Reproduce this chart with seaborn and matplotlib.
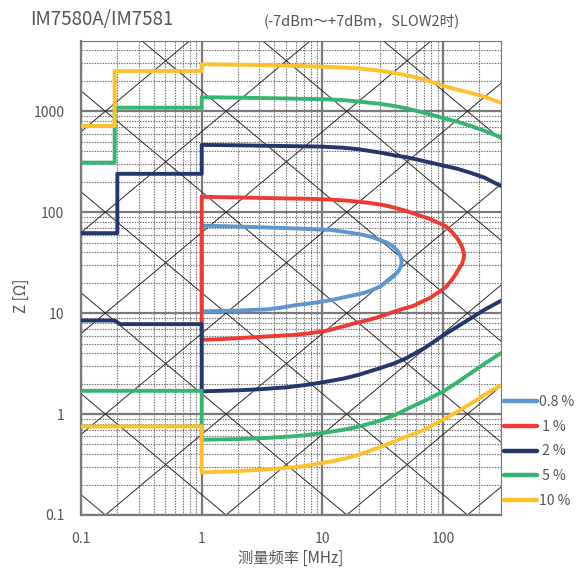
import numpy as np
import pandas as pd
import matplotlib
matplotlib.use("Agg")
import matplotlib.pyplot as plt
from matplotlib.lines import Line2D
from matplotlib.ticker import LogLocator, NullFormatter, FixedLocator, FixedFormatter
import seaborn as sns

# ---------------- data ----------------
series_names = ["0.8 %", "1 %", "2 %", "5 %", "10 %"]
legend_labels = ["0.8 %", " 1 %", " 2 %", " 5 %", "10 %"]
colors = ["#5e97d0", "#ef3a34", "#23376c", "#36b56e", "#fdc12c"]

# 0.8 % : closed loop (1 MHz .. ~45 MHz)
f_08 = [1, 2, 3, 5, 7, 10, 11.6, 15, 18, 21.9, 26, 30, 34, 37, 38.5, 41.5, 43, 44.3, 45, 45.3,
        45, 44.3, 43, 41.5, 38.5, 35, 30, 26, 21.9, 17, 11.6, 8, 6, 4.5, 3.45, 2, 1.4, 1, 1]
z_08 = [73.5, 72, 71, 69.5, 68.5, 67.2, 66.8, 64, 62, 59.5, 56.5, 53, 50, 47.3, 45.6, 42, 39.5, 37, 34.8, 32.4,
        30.2, 28.4, 26.6, 25.0, 23, 21, 18.3, 17, 15.8, 14.8, 13.4, 12.5, 12.0, 11.3, 10.9, 10.6, 10.5, 10.4, 73.5]

# 1 % : closed loop (1 MHz .. ~149 MHz)
f_1 = [1, 2, 3, 5, 7, 10, 15, 20, 25, 30, 35, 41, 48, 56, 65, 77.5, 90, 100, 106, 118, 128, 137,
       143, 146.5, 148.5, 149,
       148.5, 146.5, 143, 136, 129, 122, 114, 106, 95, 85, 77.5, 66, 56.6, 44, 38, 33, 28, 23.3,
       19, 15, 12, 10.1, 8, 6, 4.5, 3.45, 2, 1.4, 1, 1]
z_1 = [142, 140, 138.5, 137, 136, 134.5, 131, 127, 123, 119, 115, 109.5, 104, 98, 92, 86, 79, 75, 72, 64, 57, 50.5,
       46, 42, 39.5, 37.4,
       35.5, 33.4, 30.5, 27.9, 25, 22.5, 20.3, 18.3, 16.5, 15.2, 14.1, 12.9, 11.8, 10.8, 10.2, 9.6, 9.0, 8.47,
       8.0, 7.4, 6.9, 6.58, 6.35, 6.1, 5.98, 5.87, 5.65, 5.52, 5.45, 142]

# frequency grid used for the upper / lower boundaries above 1 MHz
f_curve = [1, 2, 3, 5, 7, 10, 15, 20, 30, 40, 50, 70, 100, 130, 170, 220, 300]

# 2 % : upper and lower boundaries
f_2_up = [0.1, 0.2, 0.2, 1] + f_curve
z_2_up = [62, 62, 240, 240,
          464, 460, 456, 452, 449, 446, 435, 420, 390, 365, 350, 320, 290, 270, 245, 220, 182]
f_2_lo = [0.1, 0.19, 0.21, 1] + f_curve
z_2_lo = [8.45, 8.45, 7.78, 7.78,
          1.68, 1.72, 1.76, 1.84, 1.93, 2.06, 2.25, 2.45, 2.85, 3.2, 3.6, 4.5, 6.0, 7.3, 8.9, 10.8, 13.2]

# 5 %
f_5_up = [0.1, 0.19, 0.19, 1] + f_curve
z_5_up = [310, 310, 1086, 1086,
          1376, 1365, 1352, 1338, 1328, 1317, 1290, 1247, 1185, 1125, 1065, 965, 855, 790, 715, 640, 552]
f_5_lo = [0.1, 1] + f_curve
z_5_lo = [1.70, 1.70,
          0.557, 0.565, 0.575, 0.595, 0.615, 0.648, 0.70, 0.75, 0.86, 0.98, 1.12, 1.35, 1.67, 2.05, 2.55, 3.15, 4.0]

# 10 %
f_10_up = [0.1, 0.19, 0.19, 1] + f_curve
z_10_up = [715, 715, 2506, 2506,
           2918, 2895, 2870, 2830, 2800, 2763, 2710, 2660, 2520, 2390, 2270, 2060, 1790, 1640, 1520, 1390, 1217]
f_10_lo = [0.1, 1] + f_curve
z_10_lo = [0.754, 0.754,
           0.264, 0.272, 0.28, 0.292, 0.305, 0.327, 0.36, 0.395, 0.47, 0.54, 0.60, 0.70, 0.88, 1.05, 1.27, 1.55, 1.92]

x_ticks = [0.1, 1, 10, 100]
x_ticklabels = ["0.1", "1", "10", "100"]
y_ticks = [0.1, 1, 10, 100, 1000]
y_ticklabels = ["0.1", "1", "10", "100", "1000"]

# ---------------- build long table ----------------
segments = [
    ("0.8 %", "a", f_08, z_08),
    ("1 %", "a", f_1, z_1),
    ("2 %", "up", f_2_up, z_2_up),
    ("2 %", "lo", f_2_lo, z_2_lo),
    ("5 %", "up", f_5_up, z_5_up),
    ("5 %", "lo", f_5_lo, z_5_lo),
    ("10 %", "up", f_10_up, z_10_up),
    ("10 %", "lo", f_10_lo, z_10_lo),
]
rows = []
for name, seg, fs, zs in segments:
    for i, (f, z) in enumerate(zip(fs, zs)):
        rows.append({"series": name, "unit": name + seg, "order": i, "f": f, "Z": z})
df = pd.DataFrame(rows)

# ---------------- figure ----------------
sns.set_style("white")
plt.rcParams["font.family"] = ["Noto Sans CJK SC", "DejaVu Sans"]
txt = "#555555"

W, H = 580, 574
fig = plt.figure(figsize=(W / 100, H / 100), dpi=100)
ax = fig.add_axes([81 / W, 1 - 515 / H, (500.7 - 81) / W, (515 - 40.7) / H])
ax.set_xscale("log")
ax.set_yscale("log")
ax.set_xlim(0.1, 300)
ax.set_ylim(0.1, 5000)

# grid
ax.xaxis.set_minor_locator(LogLocator(base=10, subs=np.arange(2, 10)))
ax.yaxis.set_minor_locator(LogLocator(base=10, subs=np.arange(2, 10)))
ax.xaxis.set_minor_formatter(NullFormatter())
ax.yaxis.set_minor_formatter(NullFormatter())
ax.grid(which="major", color="#7a7a7a", lw=1.6, ls="-", zorder=1)
ax.grid(which="minor", color="#6a6a6a", lw=0.8, ls=(0, (1.2, 1.2)), zorder=1)
ax.set_axisbelow(True)

# reactance guide lines (constant L and constant C)
fx = np.array([0.05, 1000.0])
w = 2 * np.pi * fx * 1e6
for k in range(-14, -1):
    ax.plot(fx, w * 10.0 ** k, color="#2a2a2a", lw=0.7, zorder=2)
    ax.plot(fx, 1 / (w * 10.0 ** k), color="#2a2a2a", lw=0.7, zorder=2)

# curves
palette = dict(zip(series_names, colors))
for name in series_names:
    sub = df[df["series"] == name]
    sns.lineplot(data=sub, x="f", y="Z", units="unit", estimator=None, sort=False,
                 color=palette[name], lw=2.8, ax=ax, legend=False, zorder=3)
for ln in ax.lines:
    ln.set_solid_joinstyle("round")

ax.set_xlim(0.1, 300)
ax.set_ylim(0.1, 5000)

ax.xaxis.set_major_locator(FixedLocator(x_ticks))
ax.xaxis.set_major_formatter(FixedFormatter(x_ticklabels))
ax.yaxis.set_major_locator(FixedLocator(y_ticks))
ax.yaxis.set_major_formatter(FixedFormatter(y_ticklabels))
ax.tick_params(which="major", direction="out", length=6, width=1.6, color="#7a7a7a",
               labelsize=10, labelcolor=txt, pad=6)
ax.tick_params(which="minor", length=0)

for s in ["left", "bottom"]:
    ax.spines[s].set_color("#7a7a7a")
    ax.spines[s].set_linewidth(1.6)
for s in ["top", "right"]:
    ax.spines[s].set_color("#6a6a6a")
    ax.spines[s].set_linewidth(0.8)
    ax.spines[s].set_linestyle((0, (1.2, 1.2)))

ax.set_xlabel("测量频率 [MHz]", fontsize=11, color=txt)
ax.xaxis.set_label_coords(0.5, -(550 - 515) / (515 - 40.7))
ax.set_ylabel("Z [Ω]", fontsize=11, color=txt)
ax.yaxis.set_label_coords(-(81 - 30) / (500.7 - 81), (515 - 296) / (515 - 40.7))

fig.text(30 / W, 1 - 20 / H, "IM7580A/IM7581", fontsize=13.5, color=txt, va="center", ha="left")
fig.text(264 / W, 1 - 21 / H, "(-7dBm～+7dBm，SLOW2时)", fontsize=10.5, color=txt,
         va="center", ha="left")

handles = [Line2D([0], [0], color=c, lw=3.2) for c in colors]
fig.legend(handles, legend_labels, loc="upper left", bbox_to_anchor=(504 / W, 1 - 395 / H),
           frameon=False, fontsize=10, labelcolor=txt, handlelength=2.4, handletextpad=0.15,
           labelspacing=0.77, borderaxespad=0, borderpad=0)

fig.savefig("out.png", dpi=100)
